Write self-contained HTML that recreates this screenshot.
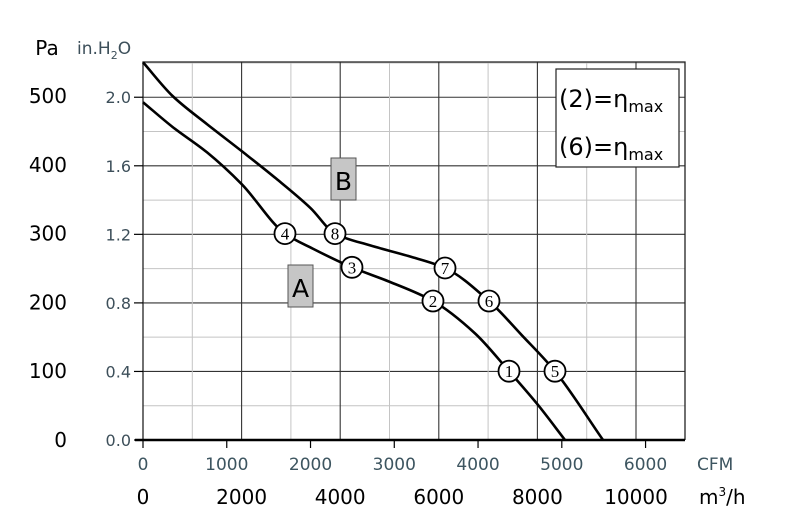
<!DOCTYPE html>
<html><head><meta charset="utf-8"><style>
html,body{margin:0;padding:0;background:#fff;}
svg{display:block;font-family:"DejaVu Sans","Liberation Sans",sans-serif;}
</style></head><body>
<svg id="chart" width="795" height="529" viewBox="0 0 795 529">
<g id="grid"></g>
<g id="axes"></g>
<g id="curves"></g>
<g id="markers"></g>
<rect x="288" y="265" width="25" height="42" fill="#c6c6c6" stroke="#555" stroke-width="1"/>
<text x="300.5" y="297" font-size="25" text-anchor="middle" fill="#000">A</text>
<rect x="331" y="158" width="25" height="42" fill="#c6c6c6" stroke="#555" stroke-width="1"/>
<text x="343.5" y="190" font-size="25" text-anchor="middle" fill="#000">B</text>
<g>
<rect x="556" y="69" width="123" height="98" fill="#fff" stroke="#222" stroke-width="1.2"/>
<text x="559" y="107" font-size="24" fill="#000">(2)=η<tspan font-size="16" dy="5">max</tspan></text>
<text x="559" y="155" font-size="24" fill="#000">(6)=η<tspan font-size="16" dy="5">max</tspan></text>
</g>
<text x="47" y="55" font-size="20" fill="#000" text-anchor="middle">Pa</text>
<text x="77" y="54" font-size="17" fill="#3d4f5a">in.H<tspan font-size="11" dy="5">2</tspan><tspan dy="-5">O</tspan></text>
<text x="697" y="470" font-size="17" fill="#3d5560">CFM</text>
<text x="699" y="504" font-size="20" fill="#000">m<tspan font-size="12" dy="-8">3</tspan><tspan dy="8">/h</tspan></text>
</svg>
<script>
const paTicks=[0,100,200,300,400,500];
const inTicks=["0.0","0.4","0.8","1.2","1.6","2.0"];
const cfmTicks=[0,1000,2000,3000,4000,5000,6000];
const m3hTicks=[0,2000,4000,6000,8000,10000];
const curveAFlow=[0,600,1300,2000,2880,3448,4239,5000,5882,6734,7424,8000,8560];
const curveAPress=[491,455,418,372,300,278,251,230,202,155,100,52,0];
const curveBFlow=[0,600,1300,2000,2700,3400,3895,4600,5400,6126,7018,7688,8357,9331];
const curveBPress=[549,500,459,420,380,337,300,283,267,250,202,152,100,0];
const markerLabels=["1","2","3","4","5","6","7","8"];
const markerFlow=[7424,5882,4239,2880,8357,7018,6126,3895];
const markerPress=[100,202,251,300,100,202,250,300];

const NS="http://www.w3.org/2000/svg";
const X0=143,X1=685,Y0=440,Y1=62;
function xs(v){return X0+v*0.0493;}
function ys(p){return Y0-p*0.688;}
function xcfm(c){return xs(c*1.699);}
function yin(i){return ys(i*249.1);}
function mk(tag,attrs,parent){const e=document.createElementNS(NS,tag);for(const k in attrs)e.setAttribute(k,attrs[k]);parent.appendChild(e);return e;}
const grid=document.getElementById('grid'),axes=document.getElementById('axes');
for(let k=1;k<=11;k++){const y=yin(k*0.2);const l=mk('line',{x1:X0,x2:X1,y1:y,y2:y,stroke:k%2?'#c4c4c4':'#333','stroke-width':k%2?1:1.1},grid);

}
for(let k=1;k<=10;k++){const x=xs(k*1000);const l=mk('line',{x1:x,x2:x,y1:Y1,y2:Y0,stroke:k%2?'#c4c4c4':'#333','stroke-width':k%2?1:1.1},grid);

}
const fr=mk('path',{d:`M${X0},${Y0}V${Y1}H${X1}V${Y0}`,fill:'none',stroke:'#222','stroke-width':1.3},axes);


const xa=mk('line',{x1:X0-8,x2:X1,y1:Y0,y2:Y0,stroke:'#000','stroke-width':2.5},axes);


paTicks.forEach(p=>{const t=mk('text',{x:67,y:ys(p)+7,'font-size':20,'text-anchor':'end',fill:'#000'},axes);t.textContent=p;

});
inTicks.forEach(s=>{const y=yin(parseFloat(s));const t=mk('text',{x:131,y:y+6,'font-size':16,'text-anchor':'end',fill:'#3d4f5a'},axes);t.textContent=s;


const tk=mk('line',{x1:134,x2:X0,y1:y,y2:y,stroke:'#000','stroke-width':1.2},axes);

});
cfmTicks.forEach(c=>{const x=xcfm(c);const t=mk('text',{x:x,y:470,'font-size':17,'text-anchor':'middle',fill:'#3d5560'},axes);t.textContent=c;


const tk=mk('line',{x1:x,x2:x,y1:Y0,y2:Y0+8,stroke:'#000','stroke-width':1.2},axes);

});
m3hTicks.forEach(v=>{const t=mk('text',{x:xs(v),y:504,'font-size':20,'text-anchor':'middle',fill:'#000'},axes);t.textContent=v;

});
function smooth(fx,py){
 const X=fx.map(xs),Y=py.map(ys),n=X.length;
 const d=[],m=new Array(n);
 for(let i=0;i<n-1;i++)d.push((Y[i+1]-Y[i])/(X[i+1]-X[i]));
 m[0]=d[0];m[n-1]=d[n-2];
 for(let i=1;i<n-1;i++){ if(d[i-1]*d[i]<=0)m[i]=0; else { const h0=X[i]-X[i-1],h1=X[i+1]-X[i];const w1=2*h1+h0,w2=h1+2*h0;m[i]=(w1+w2)/(w1/d[i-1]+w2/d[i]); } }
 let s=`M${X[0]},${Y[0]}`;
 for(let i=0;i<n-1;i++){const h=(X[i+1]-X[i])/3;
  s+=`C${X[i]+h},${Y[i]+m[i]*h} ${X[i+1]-h},${Y[i+1]-m[i+1]*h} ${X[i+1]},${Y[i+1]}`;}
 return s;}
const cg=document.getElementById('curves');
const ca=mk('path',{d:smooth(curveAFlow,curveAPress),fill:'none',stroke:'#000','stroke-width':2.6},cg);


const cb=mk('path',{d:smooth(curveBFlow,curveBPress),fill:'none',stroke:'#000','stroke-width':2.6},cg);


const mg=document.getElementById('markers');
markerLabels.forEach((lab,i)=>{const x=xs(markerFlow[i]),y=ys(markerPress[i]);
const c=mk('circle',{cx:x,cy:y,r:10.5,fill:'#fff',stroke:'#000','stroke-width':1.8},mg);


const t=mk('text',{x:x,y:y+6,'font-size':17,'text-anchor':'middle',fill:'#000','font-family':'Liberation Serif,serif'},mg);t.textContent=lab;

});
</script>
</body></html>
